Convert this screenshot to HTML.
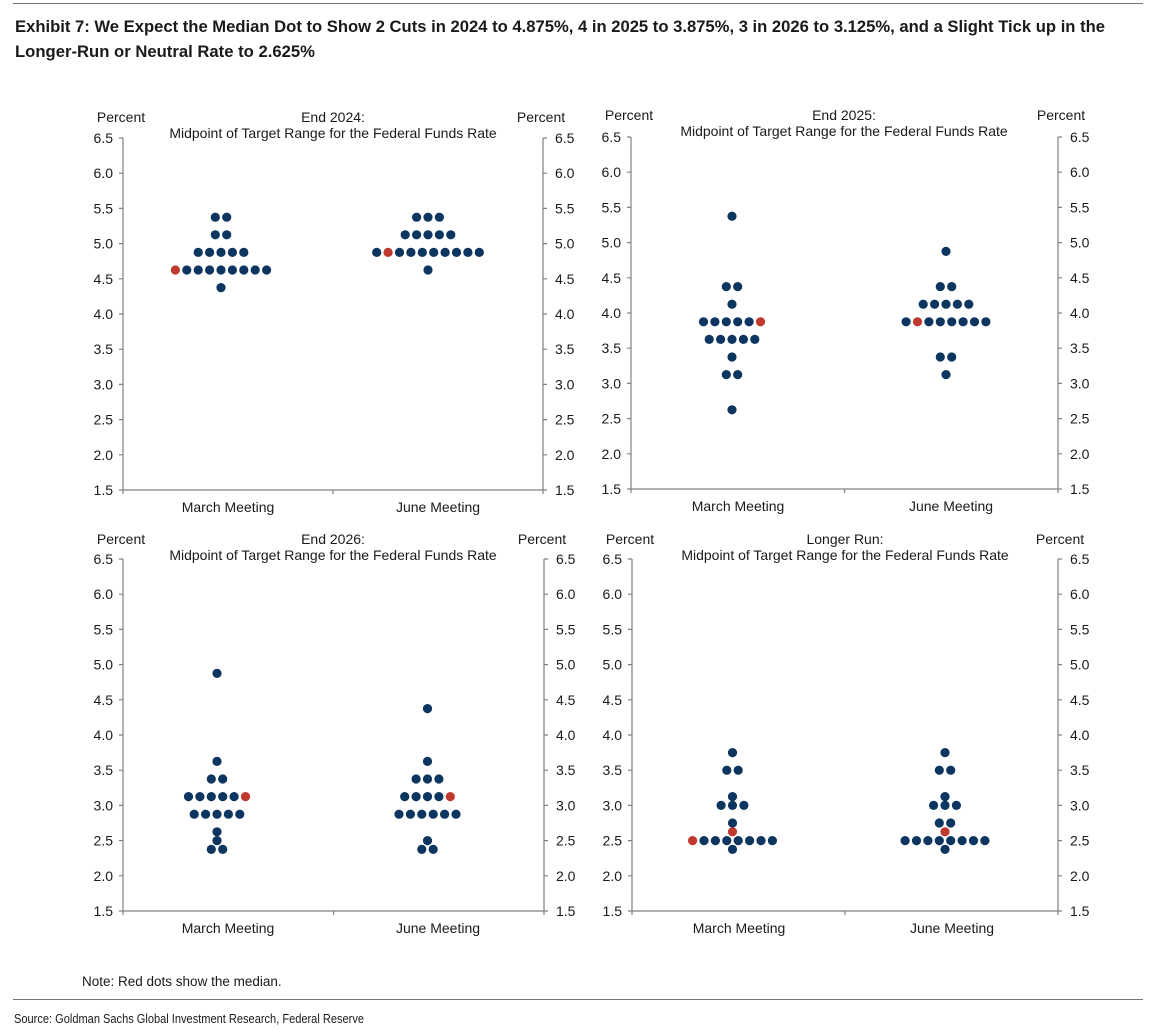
<!DOCTYPE html>
<html><head><meta charset="utf-8"><style>
html,body{margin:0;padding:0;background:#fff;width:1161px;height:1035px;overflow:hidden}
svg{display:block}
text{font-family:"Liberation Sans",Arial,sans-serif;font-size:14px;fill:#1a1a1a}
.t{font-family:"Liberation Sans Narrow","Liberation Sans",sans-serif;font-weight:bold;font-size:17px;fill:#1a1a1a}
.s{font-family:"Liberation Sans Narrow","Liberation Sans",sans-serif;font-size:13px}
.ax{stroke:#808080;stroke-width:1.2;fill:none}
</style></head><body>
<svg id="s" width="1161" height="1035" viewBox="0 0 1161 1035">
<line x1="13" y1="3.5" x2="1143" y2="3.5" stroke="#777" stroke-width="1"/>
<text class="t" x="15" y="32" textLength="1090" lengthAdjust="spacingAndGlyphs">Exhibit 7: We Expect the Median Dot to Show 2 Cuts in 2024 to 4.875%, 4 in 2025 to 3.875%, 3 in 2026 to 3.125%, and a Slight Tick up in the</text>
<text class="t" x="15" y="57" textLength="300" lengthAdjust="spacingAndGlyphs">Longer-Run or Neutral Rate to 2.625%</text>

<!-- Panel 1 -->
<g transform="translate(123,138)">
<path class="ax" d="M0,0V352M420,0V352M-4,352H424M0,352v4M210,352v4M420,352v4M-4,0H0M-4,35.2H0M-4,70.4H0M-4,105.6H0M-4,140.8H0M-4,176H0M-4,211.2H0M-4,246.4H0M-4,281.6H0M-4,316.8H0M420,0h4M420,35.2h4M420,70.4h4M420,105.6h4M420,140.8h4M420,176h4M420,211.2h4M420,246.4h4M420,281.6h4M420,316.8h4"/>
<g text-anchor="end"><text x="-10" y="5">6.5</text><text x="-10" y="40.2">6.0</text><text x="-10" y="75.4">5.5</text><text x="-10" y="110.6">5.0</text><text x="-10" y="145.8">4.5</text><text x="-10" y="181">4.0</text><text x="-10" y="216.2">3.5</text><text x="-10" y="251.4">3.0</text><text x="-10" y="286.6">2.5</text><text x="-10" y="321.8">2.0</text><text x="-10" y="357">1.5</text></g>
<g><text x="432" y="5">6.5</text><text x="432" y="40.2">6.0</text><text x="432" y="75.4">5.5</text><text x="432" y="110.6">5.0</text><text x="432" y="145.8">4.5</text><text x="432" y="181">4.0</text><text x="432" y="216.2">3.5</text><text x="432" y="251.4">3.0</text><text x="432" y="286.6">2.5</text><text x="432" y="321.8">2.0</text><text x="432" y="357">1.5</text></g>
<g text-anchor="middle"><text x="-2" y="-16">Percent</text><text x="418" y="-16">Percent</text><text x="210" y="-16">End 2024:</text><text x="210" y="0">Midpoint of Target Range for the Federal Funds Rate</text><text x="105" y="374">March Meeting</text><text x="315" y="374">June Meeting</text></g>
</g>

<!-- Panel 2 -->
<g transform="translate(631,137)">
<path class="ax" d="M0,0V352M427,0V352M-4,352H431M0,352v4M213.5,352v4M427,352v4M-4,0H0M-4,35.2H0M-4,70.4H0M-4,105.6H0M-4,140.8H0M-4,176H0M-4,211.2H0M-4,246.4H0M-4,281.6H0M-4,316.8H0M427,0h4M427,35.2h4M427,70.4h4M427,105.6h4M427,140.8h4M427,176h4M427,211.2h4M427,246.4h4M427,281.6h4M427,316.8h4"/>
<g text-anchor="end"><text x="-10" y="5">6.5</text><text x="-10" y="40.2">6.0</text><text x="-10" y="75.4">5.5</text><text x="-10" y="110.6">5.0</text><text x="-10" y="145.8">4.5</text><text x="-10" y="181">4.0</text><text x="-10" y="216.2">3.5</text><text x="-10" y="251.4">3.0</text><text x="-10" y="286.6">2.5</text><text x="-10" y="321.8">2.0</text><text x="-10" y="357">1.5</text></g>
<g><text x="439" y="5">6.5</text><text x="439" y="40.2">6.0</text><text x="439" y="75.4">5.5</text><text x="439" y="110.6">5.0</text><text x="439" y="145.8">4.5</text><text x="439" y="181">4.0</text><text x="439" y="216.2">3.5</text><text x="439" y="251.4">3.0</text><text x="439" y="286.6">2.5</text><text x="439" y="321.8">2.0</text><text x="439" y="357">1.5</text></g>
<g text-anchor="middle"><text x="-2" y="-17">Percent</text><text x="430" y="-17">Percent</text><text x="213" y="-17">End 2025:</text><text x="213" y="-1">Midpoint of Target Range for the Federal Funds Rate</text><text x="107" y="374">March Meeting</text><text x="320" y="374">June Meeting</text></g>
</g>

<!-- Panel 3 -->
<g transform="translate(123,559)">
<path class="ax" d="M0,0V352M421,0V352M-4,352H425M0,352v4M210.5,352v4M421,352v4M-4,0H0M-4,35.2H0M-4,70.4H0M-4,105.6H0M-4,140.8H0M-4,176H0M-4,211.2H0M-4,246.4H0M-4,281.6H0M-4,316.8H0M421,0h4M421,35.2h4M421,70.4h4M421,105.6h4M421,140.8h4M421,176h4M421,211.2h4M421,246.4h4M421,281.6h4M421,316.8h4"/>
<g text-anchor="end"><text x="-10" y="5">6.5</text><text x="-10" y="40.2">6.0</text><text x="-10" y="75.4">5.5</text><text x="-10" y="110.6">5.0</text><text x="-10" y="145.8">4.5</text><text x="-10" y="181">4.0</text><text x="-10" y="216.2">3.5</text><text x="-10" y="251.4">3.0</text><text x="-10" y="286.6">2.5</text><text x="-10" y="321.8">2.0</text><text x="-10" y="357">1.5</text></g>
<g><text x="433" y="5">6.5</text><text x="433" y="40.2">6.0</text><text x="433" y="75.4">5.5</text><text x="433" y="110.6">5.0</text><text x="433" y="145.8">4.5</text><text x="433" y="181">4.0</text><text x="433" y="216.2">3.5</text><text x="433" y="251.4">3.0</text><text x="433" y="286.6">2.5</text><text x="433" y="321.8">2.0</text><text x="433" y="357">1.5</text></g>
<g text-anchor="middle"><text x="-2" y="-15">Percent</text><text x="419" y="-15">Percent</text><text x="210" y="-15">End 2026:</text><text x="210" y="1">Midpoint of Target Range for the Federal Funds Rate</text><text x="105" y="374">March Meeting</text><text x="315" y="374">June Meeting</text></g>
</g>

<!-- Panel 4 -->
<g transform="translate(632,559)">
<path class="ax" d="M0,0V352M426,0V352M-4,352H430M0,352v4M213,352v4M426,352v4M-4,0H0M-4,35.2H0M-4,70.4H0M-4,105.6H0M-4,140.8H0M-4,176H0M-4,211.2H0M-4,246.4H0M-4,281.6H0M-4,316.8H0M426,0h4M426,35.2h4M426,70.4h4M426,105.6h4M426,140.8h4M426,176h4M426,211.2h4M426,246.4h4M426,281.6h4M426,316.8h4"/>
<g text-anchor="end"><text x="-10" y="5">6.5</text><text x="-10" y="40.2">6.0</text><text x="-10" y="75.4">5.5</text><text x="-10" y="110.6">5.0</text><text x="-10" y="145.8">4.5</text><text x="-10" y="181">4.0</text><text x="-10" y="216.2">3.5</text><text x="-10" y="251.4">3.0</text><text x="-10" y="286.6">2.5</text><text x="-10" y="321.8">2.0</text><text x="-10" y="357">1.5</text></g>
<g><text x="438" y="5">6.5</text><text x="438" y="40.2">6.0</text><text x="438" y="75.4">5.5</text><text x="438" y="110.6">5.0</text><text x="438" y="145.8">4.5</text><text x="438" y="181">4.0</text><text x="438" y="216.2">3.5</text><text x="438" y="251.4">3.0</text><text x="438" y="286.6">2.5</text><text x="438" y="321.8">2.0</text><text x="438" y="357">1.5</text></g>
<g text-anchor="middle"><text x="-2" y="-15">Percent</text><text x="428" y="-15">Percent</text><text x="213" y="-15">Longer Run:</text><text x="213" y="1">Midpoint of Target Range for the Federal Funds Rate</text><text x="107" y="374">March Meeting</text><text x="320" y="374">June Meeting</text></g>
</g>

<g id="dots"></g>

<text x="82" y="986" style="font-size:13.5px">Note: Red dots show the median.</text>
<line x1="13" y1="999.5" x2="1143" y2="999.5" stroke="#777" stroke-width="1"/>
<text class="s" x="14" y="1023" textLength="350" lengthAdjust="spacingAndGlyphs">Source: Goldman Sachs Global Investment Research, Federal Reserve</text>
</svg>
<script>
(function(){
var NAVY="#0c3560",RED="#c0392f",S=11.4,R=4.6;
var P=[
 {b:490,g:[[221,[[5.375,2],[5.125,2],[4.875,5],[4.625,9,0],[4.375,1]]],[428,[[5.375,3],[5.125,5],[4.875,10,1],[4.625,1]]]]},
 {b:489,g:[[732,[[5.375,1],[4.375,2],[4.125,1],[3.875,6,5],[3.625,5],[3.375,1],[3.125,2],[2.625,1]]],[946,[[4.875,1],[4.375,2],[4.125,5],[3.875,8,1],[3.375,2],[3.125,1]]]]},
 {b:911,g:[[217,[[4.875,1],[3.625,1],[3.375,2],[3.125,6,5],[2.875,5],[2.625,1],[2.5,1],[2.375,2]]],[427.5,[[4.375,1],[3.625,1],[3.375,3],[3.125,5,4],[2.875,6],[2.5,1],[2.375,2]]]]},
 {b:911,g:[[732.5,[[3.75,1],[3.5,2],[3.125,1],[3.0,3],[2.75,1],[2.5,8,0],[2.375,1],[2.625,1,0]]],[945,[[3.75,1],[3.5,2],[3.125,1],[3.0,3],[2.75,2],[2.5,8],[2.375,1],[2.625,1,0]]]]}
];
var h="";
P.forEach(function(p){p.g.forEach(function(g){var c=g[0];g[1].forEach(function(r){
 var y=p.b-(r[0]-1.5)*70.4,n=r[1];
 for(var i=0;i<n;i++){var x=c+(i-(n-1)/2)*S;
  h+='<circle cx="'+x.toFixed(1)+'" cy="'+y.toFixed(1)+'" r="'+R+'" fill="'+(r[2]===i?RED:NAVY)+'"/>';}
});});});
document.getElementById("dots").innerHTML=h;
})();
</script>
</body></html>
